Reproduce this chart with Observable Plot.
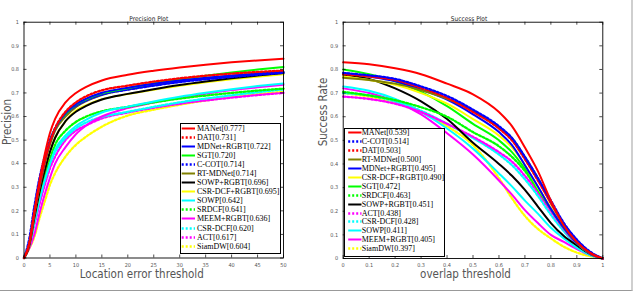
<!DOCTYPE html>
<html>
<head>
<meta charset="utf-8">
<script src="https://cdn.jsdelivr.net/npm/d3@7"></script>
<script src="https://cdn.jsdelivr.net/npm/@observablehq/plot@0.6"></script>
<style>
  body { margin: 0; background: #fff; }
  #wrap { position: relative; width: 636px; height: 292px; overflow: hidden; background: #fff; }
  .lg { position: absolute; box-sizing: border-box; border: 1px solid #000; background: #fff; }
  .lg .row { position: absolute; left: 0; height: 9px; display: flex; align-items: center; white-space: nowrap; }
  .lg span { font-family: "Liberation Serif", "DejaVu Serif", serif; font-size: 8px; line-height: 9px; color: #000; }
</style>
</head>
<body>
<div id="wrap"></div>
<script>
// ---------- Precision plot data ----------
const precThresholds = [0, 1, 2, 3, 4, 5, 6, 8, 10, 12, 15, 20, 25, 30, 35, 40, 45, 50];
const precNames = ["MANet", "DAT", "MDNet+RGBT", "SGT", "C-COT", "RT-MDNet", "SOWP+RGBT",
  "CSR-DCF+RGBT", "SOWP", "SRDCF", "MEEM+RGBT", "CSR-DCF", "ACT", "SiamDW"];
const precScores = ["0.777", "0.731", "0.722", "0.720", "0.714", "0.714", "0.696",
  "0.695", "0.642", "0.641", "0.636", "0.620", "0.617", "0.604"];
const precCurves = [
  [0, .06, .20, .33, .44, .53, .59, .66, .70, .726, .753, .777, .794, .808, .82, .83, .838, .845],
  [0, .06, .19, .31, .41, .49, .55, .62, .66, .686, .711, .731, .748, .762, .773, .782, .789, .795],
  [0, .06, .19, .31, .41, .49, .55, .615, .652, .676, .701, .722, .739, .753, .764, .774, .782, .789],
  [0, .06, .19, .31, .41, .49, .55, .61, .65, .673, .698, .720, .741, .758, .773, .787, .799, .81],
  [0, .08, .22, .34, .43, .50, .55, .61, .645, .668, .693, .714, .731, .746, .758, .768, .777, .785],
  [0, .06, .19, .30, .40, .48, .54, .60, .64, .665, .691, .714, .733, .749, .762, .773, .782, .79],
  [0, .05, .17, .28, .37, .45, .51, .58, .62, .645, .672, .696, .716, .734, .749, .762, .774, .785],
  [0, .05, .17, .28, .37, .45, .51, .58, .625, .648, .673, .695, .714, .73, .745, .758, .769, .779],
  [0, .05, .15, .25, .33, .40, .46, .52, .56, .587, .617, .642, .664, .684, .701, .716, .729, .74],
  [0, .06, .17, .27, .35, .42, .48, .54, .577, .60, .622, .641, .66, .676, .689, .70, .71, .718],
  [0, .04, .10, .19, .27, .34, .40, .47, .525, .562, .60, .636, .659, .68, .697, .712, .724, .735],
  [0, .05, .15, .25, .33, .40, .45, .51, .55, .575, .598, .620, .641, .66, .676, .69, .703, .715],
  [0, .05, .14, .23, .31, .38, .43, .50, .54, .563, .592, .617, .637, .654, .668, .68, .691, .70],
  [0, .04, .09, .17, .24, .31, .36, .43, .48, .515, .557, .604, .629, .65, .668, .683, .695, .705]
];
const precXTicks = [0, 5, 10, 15, 20, 25, 30, 35, 40, 45, 50];

// ---------- Success plot data ----------
const succThresholds = [0, .1, .2, .3, .4, .5, .6, .65, .7, .75, .8, .85, .9, .95, 1];
const succNames = ["MANet", "C-COT", "DAT", "RT-MDNet", "MDNet+RGBT", "CSR-DCF+RGBT", "SGT",
  "SRDCF", "SOWP+RGBT", "ACT", "CSR-DCF", "SOWP", "MEEM+RGBT", "SiamDW"];
const succScores = ["0.539", "0.514", "0.503", "0.500", "0.495", "0.490", "0.472",
  "0.463", "0.451", "0.438", "0.428", "0.411", "0.405", "0.397"];
const succCurves = [
  [.83, .822, .805, .78, .74, .695, .62, .56, .47, .37, .245, .14, .07, .025, 0],
  [.785, .775, .76, .728, .688, .63, .56, .51, .43, .34, .245, .15, .08, .03, 0],
  [.78, .77, .755, .722, .68, .62, .55, .50, .42, .33, .235, .145, .075, .025, 0],
  [.765, .755, .74, .712, .676, .626, .555, .51, .43, .34, .235, .14, .07, .025, 0],
  [.785, .77, .75, .715, .672, .61, .535, .48, .395, .305, .21, .13, .065, .022, 0],
  [.77, .755, .735, .70, .655, .59, .52, .47, .395, .30, .215, .13, .065, .022, 0],
  [.80, .78, .75, .705, .645, .57, .50, .45, .38, .30, .21, .13, .068, .025, 0],
  [.705, .69, .67, .64, .60, .535, .475, .43, .37, .29, .21, .13, .065, .022, 0],
  [.778, .76, .72, .665, .59, .49, .40, .35, .29, .22, .15, .095, .055, .02, 0],
  [.685, .675, .655, .62, .57, .515, .45, .41, .35, .28, .20, .125, .06, .02, 0],
  [.70, .69, .665, .625, .57, .51, .44, .395, .335, .265, .185, .115, .055, .02, 0],
  [.728, .71, .675, .62, .55, .465, .36, .305, .245, .19, .13, .085, .045, .015, 0],
  [.72, .70, .665, .61, .53, .44, .33, .27, .205, .15, .10, .07, .04, .015, 0],
  [.70, .685, .66, .62, .56, .48, .34, .255, .18, .125, .085, .05, .025, .01, 0]
];
const succXTicks = [0, .1, .2, .3, .4, .5, .6, .7, .8, .9, 1];
const yTicks = [0, .1, .2, .3, .4, .5, .6, .7, .8, .9, 1];

// ---------- styles (per tracker) ----------
const trackerColor = {
  "MANet": "#ff0000", "DAT": "#ff0000", "MDNet+RGBT": "#0000ff", "SGT": "#00ff00",
  "C-COT": "#0000ff", "RT-MDNet": "#808000", "SOWP+RGBT": "#000000", "CSR-DCF+RGBT": "#ffff00",
  "SOWP": "#00ffff", "SRDCF": "#00ff00", "MEEM+RGBT": "#ff00ff", "CSR-DCF": "#00ffff",
  "ACT": "#ff00ff", "SiamDW": "#ffff00"
};
const trackerDotted = {
  "MANet": false, "DAT": true, "MDNet+RGBT": false, "SGT": false, "C-COT": true,
  "RT-MDNet": false, "SOWP+RGBT": false, "CSR-DCF+RGBT": false, "SOWP": false,
  "SRDCF": true, "MEEM+RGBT": false, "CSR-DCF": true, "ACT": true, "SiamDW": true
};

const wrap = d3.select("#wrap");
const FULL_H = 292;
const fmt = d => String(+d.toFixed(1));

function drawPanel(o) {
  const H = FULL_H - o.mT - o.mB;
  const W = o.width - o.mL - o.mR;
  const marks = [];
  for (let i = o.names.length - 1; i >= 0; i--) {
    const name = o.names[i];
    const rows = o.thresholds.map((t, j) => ({x: t, y: o.curves[i][j]}));
    const dotted = trackerDotted[name];
    marks.push(Plot.line(rows, {
      x: "x", y: "y", stroke: trackerColor[name],
      strokeWidth: dotted ? 2.3 : 2,
      strokeDasharray: dotted ? "2,2" : undefined,
      curve: "monotone-x"
    }));
  }
  // inward ticks on all four sides
  marks.push(Plot.tickX(o.xTicks, {x: d => d, insetTop: H - 3, stroke: "#000", strokeWidth: 0.7}));
  marks.push(Plot.tickX(o.xTicks, {x: d => d, insetBottom: H - 3, stroke: "#000", strokeWidth: 0.7}));
  marks.push(Plot.tickY(yTicks, {y: d => d, insetRight: W - 3, stroke: "#000", strokeWidth: 0.7}));
  marks.push(Plot.tickY(yTicks, {y: d => d, insetLeft: W - 3, stroke: "#000", strokeWidth: 0.7}));
  marks.push(Plot.frame({stroke: "#000", strokeWidth: 0.9}));
  marks.push(Plot.axisX({ticks: o.xTicks, anchor: "bottom", tickSize: 0, tickPadding: 5, fontSize: 5.5, fill: "#555", tickFormat: fmt, label: null}));
  marks.push(Plot.axisY({ticks: yTicks, anchor: "left", tickSize: 0, tickPadding: 5, fontSize: 5.5, fill: "#555", tickFormat: fmt, label: null}));
  marks.push(Plot.text([o.title], {text: d => d, frameAnchor: "top", dy: -5.7, dx: o.titleDx, fontSize: 6.5, fill: "#222"}));
  marks.push(Plot.text([o.xLabel], {text: d => d, frameAnchor: "bottom", dy: 19.5, dx: o.xLabelDx, fontSize: 11.5, fill: "#555"}));
  marks.push(Plot.text([o.yLabel], {text: d => d, frameAnchor: "left", rotate: -90, dx: o.yLabelDx, dy: o.yLabelDy, fontSize: 11.5, fill: "#555"}));

  const svg = Plot.plot({
    width: o.width, height: FULL_H,
    marginLeft: o.mL, marginRight: o.mR, marginTop: o.mT, marginBottom: o.mB,
    x: {domain: o.xDomain, label: null},
    y: {domain: [0, 1], label: null},
    style: {fontFamily: "'Liberation Sans Narrow', 'DejaVu Sans Condensed', 'Liberation Sans', sans-serif", background: "transparent", color: "#000", overflow: "visible"},
    marks
  });
  d3.select(svg).style("position", "absolute").style("left", o.left + "px").style("top", "0px");
  wrap.node().appendChild(svg);
}

function drawLegend(L, names, scores) {
  const box = wrap.append("div").attr("class", "lg")
    .style("left", L.left + "px").style("top", L.top + "px")
    .style("width", L.width + "px").style("height", L.height + "px");
  names.forEach((name, i) => {
    const cy = L.row0 + i * L.step - L.top - 1;
    const row = box.append("div").attr("class", "row").style("top", (cy - 4.5) + "px");
    const sw = L.textX - L.left - 1;
    const s = row.append("svg").attr("width", sw).attr("height", 9);
    const dotted = trackerDotted[name];
    s.append("line")
      .attr("x1", L.sx0 - L.left - 1).attr("x2", L.sx1 - L.left - 1)
      .attr("y1", 4.5).attr("y2", 4.5)
      .attr("stroke", trackerColor[name]).attr("stroke-width", dotted ? 2.3 : 2)
      .attr("stroke-dasharray", dotted ? "2,2" : null);
    row.append("span").text(name + "[" + scores[i] + "]");
  });
}

drawPanel({
  left: 0, width: 316, mL: 23.5, mR: 33, mT: 21.7, mB: 34.5,
  xDomain: [0, 50], xTicks: precXTicks, thresholds: precThresholds,
  curves: precCurves, names: precNames,
  title: "Precision Plot", xLabel: "Location error threshold", yLabel: "Precision",
  titleDx: -5, xLabelDx: -12, yLabelDx: -17, yLabelDy: 5
});
drawPanel({
  left: 316, width: 316, mL: 26.7, mR: 29.7, mT: 21.7, mB: 34,
  xDomain: [0, 1], xTicks: succXTicks, thresholds: succThresholds,
  curves: succCurves, names: succNames,
  title: "Success Plot", xLabel: "overlap threshold", yLabel: "Success Rate",
  titleDx: -4, xLabelDx: -7.5, yLabelDx: -19.7, yLabelDy: 6
});

drawLegend({left: 180, top: 123.3, width: 100.5, height: 130.5, row0: 128.3, step: 9.07, sx0: 181.7, sx1: 195, textX: 197}, precNames, precScores);
drawLegend({left: 343.5, top: 127.7, width: 101, height: 129.5, row0: 132.7, step: 8.93, sx0: 347.7, sx1: 361, textX: 361.7}, succNames, succScores);

// outer border of the figure image
wrap.append("div")
  .style("position", "absolute").style("left", "0px").style("top", "0px")
  .style("width", "631px").style("height", "290px")
  .style("border-right", "2px solid #cfcfcf").style("border-bottom", "1px solid #999")
  .style("pointer-events", "none");
</script>
</body>
</html>
